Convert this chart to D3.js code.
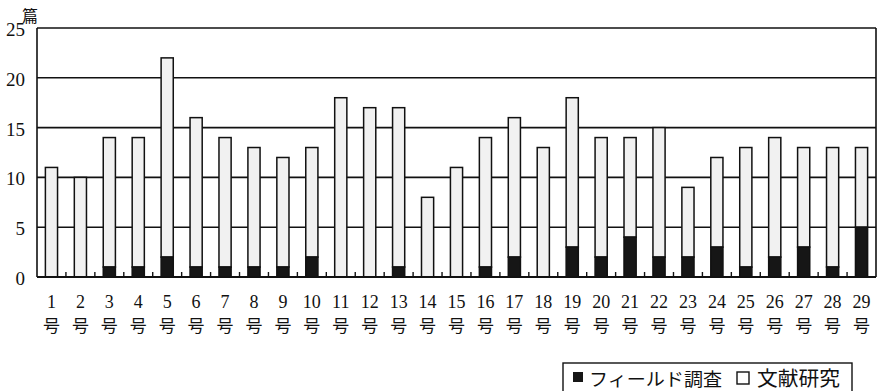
<!DOCTYPE html>
<html><head><meta charset="utf-8">
<script src="https://cdn.jsdelivr.net/npm/d3@7"></script>
<style>
html,body{margin:0;padding:0;background:#fff;}
svg{display:block;}
</style></head>
<body>
<svg id="chart" width="884" height="391"></svg>
<script>
const categories = ["1号","2号","3号","4号","5号","6号","7号","8号","9号","10号","11号","12号","13号","14号","15号","16号","17号","18号","19号","20号","21号","22号","23号","24号","25号","26号","27号","28号","29号"];
const fieldSurvey = [0,0,1,1,2,1,1,1,1,2,0,0,1,0,0,1,2,0,3,2,4,2,2,3,1,2,3,1,5];
const literature  = [11,10,13,13,20,15,13,12,11,11,18,17,16,8,11,13,14,13,15,12,10,13,7,9,12,12,10,12,8];
const yTicks = [0,5,10,15,20,25];
const seriesNames = ["フィールド調査","文献研究"];
const unitLabel = "篇";

const svg = d3.select("#chart");
const L = 37, R = 876, T = 28, B = 277;

const x = d3.scaleBand().domain(categories).range([L, R]).paddingInner(0.58).paddingOuter(0.29);
const y = d3.scaleLinear().domain([0, 25]).range([B, T]);

const serif = "'Liberation Serif','Noto Sans CJK JP',serif";
const cjk = "'Noto Sans CJK JP',sans-serif";

// gridlines
svg.append("g").selectAll("line").data(yTicks.filter(d => d > 0)).join("line")
  .attr("x1", L).attr("x2", R).attr("y1", d => y(d)).attr("y2", d => y(d))
  .attr("stroke", "#111").attr("stroke-width", 1.6);

// frame left/right
svg.append("line").attr("x1", L).attr("x2", L).attr("y1", T).attr("y2", B).attr("stroke", "#111").attr("stroke-width", 1.6);
svg.append("line").attr("x1", R).attr("x2", R).attr("y1", T).attr("y2", B).attr("stroke", "#111").attr("stroke-width", 1.6);

// stacked data
const rows = categories.map((c, i) => ({cat: c, field: fieldSurvey[i], lit: literature[i]}));
const stack = d3.stack().keys(["field", "lit"])(rows);

// literature bars (light)
svg.append("g").selectAll("rect").data(stack[1]).join("rect")
  .attr("x", d => x(d.data.cat)).attr("width", x.bandwidth())
  .attr("y", d => y(d[1])).attr("height", d => y(d[0]) - y(d[1]))
  .attr("fill", "#f1f1f1").attr("stroke", "#111").attr("stroke-width", 1.5);

// field bars (dark)
svg.append("g").selectAll("rect").data(stack[0].filter(d => d[1] > d[0])).join("rect")
  .attr("x", d => x(d.data.cat)).attr("width", x.bandwidth())
  .attr("y", d => y(d[1])).attr("height", d => y(d[0]) - y(d[1]))
  .attr("fill", "#161616").attr("stroke", "#111").attr("stroke-width", 1.5);

// bottom axis with inward ticks at category boundaries
svg.append("line").attr("x1", L).attr("x2", R).attr("y1", B).attr("y2", B).attr("stroke", "#111").attr("stroke-width", 1.8);
const step = x.step();
svg.append("g").selectAll("line").data(categories.slice(1)).join("line")
  .attr("x1", d => x(d) - x.paddingInner() * step / 2).attr("x2", d => x(d) - x.paddingInner() * step / 2)
  .attr("y1", B).attr("y2", B - 5).attr("stroke", "#111").attr("stroke-width", 1.4);

// y labels
svg.append("g").selectAll("text").data(yTicks).join("text")
  .attr("x", 25).attr("y", d => y(d) + 8).attr("text-anchor", "end")
  .attr("font-family", serif).attr("font-size", 19).attr("fill", "#111")
  .text(d => d);

// unit
svg.append("text").attr("x", 22).attr("y", 22).attr("font-family", cjk).attr("font-size", 16).attr("fill", "#111").text(unitLabel);

// x labels (number over 号)
const xl = svg.append("g").selectAll("text").data(categories).join("text")
  .attr("text-anchor", "middle").attr("fill", "#111");
xl.append("tspan").attr("x", d => x(d) + x.bandwidth() / 2).attr("y", 308)
  .attr("font-family", serif).attr("font-size", 18).text(d => d.replace("号", ""));
xl.append("tspan").attr("x", d => x(d) + x.bandwidth() / 2).attr("y", 332)
  .attr("font-family", cjk).attr("font-size", 17).text("号");

// legend
const lg = svg.append("g");
lg.append("rect").attr("x", 563).attr("y", 363).attr("width", 289).attr("height", 40)
  .attr("fill", "#fff").attr("stroke", "#111").attr("stroke-width", 1.4);
lg.append("rect").attr("x", 573).attr("y", 372).attr("width", 10).attr("height", 10).attr("fill", "#161616");
lg.append("text").attr("x", 589).attr("y", 386).attr("font-family", cjk).attr("font-size", 18).attr("fill", "#111")
  .attr("textLength", 133).attr("lengthAdjust", "spacingAndGlyphs").text(seriesNames[0]);
lg.append("rect").attr("x", 737).attr("y", 372).attr("width", 12).attr("height", 12).attr("fill", "#fff").attr("stroke", "#111").attr("stroke-width", 1.4);
lg.append("text").attr("x", 757).attr("y", 386).attr("font-family", cjk).attr("font-size", 20).attr("fill", "#111")
  .attr("textLength", 83).attr("lengthAdjust", "spacingAndGlyphs").text(seriesNames[1]);
</script>
</body></html>
